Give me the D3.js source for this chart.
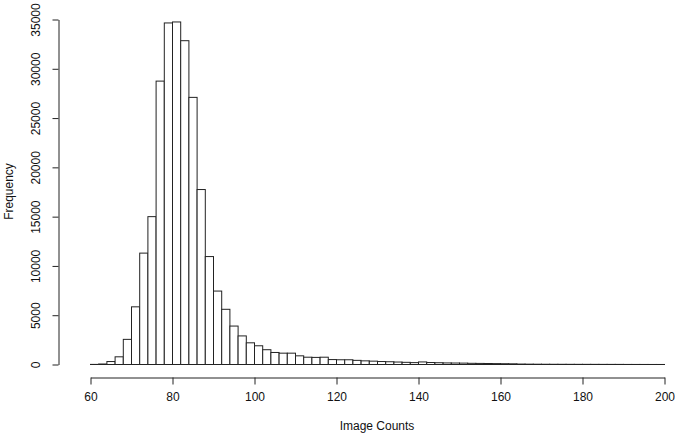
<!DOCTYPE html>
<html>
<head>
<meta charset="utf-8">
<script src="https://cdn.jsdelivr.net/npm/d3@7"></script>
<style>
  html, body { margin: 0; padding: 0; background: #fff; }
  svg { display: block; }
  text { font-family: "Liberation Sans", Arial, sans-serif; fill: #111; }
</style>
</head>
<body>
<svg id="chart" width="675" height="438"></svg>
<script>
// Histogram bins (left edges, width 2) and frequencies
const binStarts = [58,60,62,64,66,68,70,72,74,76,78,80,82,84,86,88,90,92,94,96,98,
  100,102,104,106,108,110,112,114,116,118,120,122,124,126,128,130,132,134,136,138,
  140,142,144,146,148,150,152,154,156,158,160,162,164,166,168,170,172,174,176,178,
  180,182,184,186,188,190,192,194,196,198];
const binWidth = 2;
const counts = [0,10,50,300,780,2550,5850,11300,15000,28750,34650,34750,32850,27100,17750,10950,7450,5600,3900,2900,2200,
  1900,1500,1220,1150,1150,880,740,720,740,500,480,480,420,370,340,300,280,250,220,190,
  260,200,180,160,150,140,120,110,100,90,80,70,45,35,30,25,22,20,18,16,
  15,14,12,11,10,6,5,4,3,2];
const xTicks = [60,80,100,120,140,160,180,200];
const yTicks = [0,5000,10000,15000,20000,25000,30000,35000];
const xLabel = "Image Counts";
const yLabel = "Frequency";

const svg = d3.select("#chart");
const x = d3.scaleLinear().domain([60, 200]).range([90, 664]);
const y = d3.scaleLinear().domain([0, 35000]).range([364, 19]);

const bins = binStarts.map((s, i) => ({ x0: s, x1: s + binWidth, n: counts[i] }));

svg.append("g").selectAll("rect").data(bins).join("rect")
  .attr("x", d => x(d.x0) + 0.5)
  .attr("y", d => y(d.n) + 0.5)
  .attr("width", d => x(d.x1) - x(d.x0))
  .attr("height", d => y(0) - y(d.n))
  .attr("fill", "#fff")
  .attr("stroke", "#222")
  .attr("stroke-width", 1);

// X axis
const gx = svg.append("g").attr("transform", "translate(0.5,377.5)")
  .call(d3.axisBottom(x).tickValues(xTicks).tickSize(7).tickSizeOuter(0).tickPadding(8).tickFormat(d3.format("d")));
gx.selectAll("path,line").attr("stroke", "#222");
gx.selectAll("text").style("font-size", "12px").attr("fill", "#111");

// Y axis
const gy = svg.append("g").attr("transform", "translate(58.5,0.5)")
  .call(d3.axisLeft(y).tickValues(yTicks).tickSize(6).tickSizeOuter(0).tickFormat(d3.format("d")));
gy.selectAll("path,line").attr("stroke", "#222");
gy.selectAll(".tick text")
  .attr("x", 0).attr("dy", null)
  .attr("text-anchor", "middle")
  .attr("transform", "translate(-19,0) rotate(-90)")
  .style("font-size", "12px").attr("fill", "#111");

svg.append("text")
  .attr("x", x(130)).attr("y", 430)
  .attr("text-anchor", "middle")
  .style("font-size", "12px")
  .text(xLabel);

svg.append("text")
  .attr("transform", `translate(13,${(y(0) + y(35000)) / 2}) rotate(-90)`)
  .attr("text-anchor", "middle")
  .style("font-size", "12px")
  .text(yLabel);
</script>
</body>
</html>
